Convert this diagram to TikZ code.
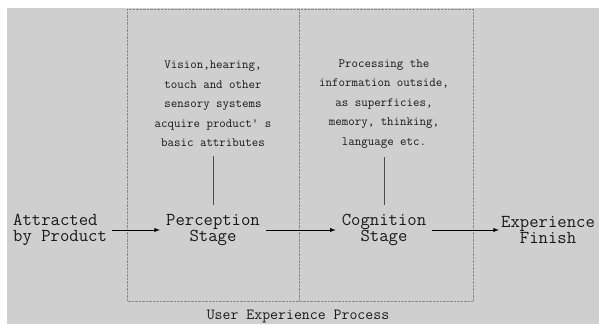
\documentclass[tikz,border=0pt]{standalone}
\usepackage{fontspec}
\usetikzlibrary{positioning}
\definecolor{bggray}{RGB}{207,207,207}
\definecolor{boxgray}{RGB}{135,135,135}
\tikzset{
	stage/.style={font=\ttfamily\fontsize{18.2}{16.5}\selectfont,align=center,inner xsep=6pt,inner ysep=9pt,text=black!90},
	note/.style={font=\ttfamily\fontsize{12.6}{19.5}\selectfont,align=center,inner sep=9pt,text=black!90},
}
\begin{document}
\begin{tikzpicture}[x=1pt,y=-1pt]
	\useasboundingbox (0,0) rectangle (599,324);
	\fill[bggray] (7,8) rectangle (599,324);
	\draw[boxgray,densely dotted] (127,9) rectangle (473,301);
	\draw[boxgray,densely dotted] (299,9) -- (299,301);
	\node[stage,align=left,anchor=west,inner xsep=5pt] (v1) at (8,230) {Attracted\\by Product};
	\node[stage] (v2) at (213,230) {Perception\\Stage};
	\node[stage] (v3) at (384,230) {Cognition\\Stage};
	\node[stage,inner xsep=2pt] (v4) at (548,230) {Experience\\Finish};
	\node[note] (t1) at (213,104) {Vision,hearing,\\touch and other\\sensory systems\\acquire product' s\\basic attributes};
	\node[note] (t2) at (384,104) {Processing the\\information outside,\\as superficies,\\memory, thinking,\\language etc.};
	\node[font=\ttfamily\fontsize{15.4}{16}\selectfont,text=black!90] (p) at (298,316) {User Experience Process};
	\draw[-latex,line width=0.9pt] (v1) -- (v2);
	\draw[-latex,line width=0.9pt] (v2) -- (v3);
	\draw[-latex,line width=0.9pt] (v3) -- (v4);
	\draw[black!70,line width=1pt] (t1) -- (v2);
	\draw[black!70,line width=1pt] (t2) -- (v3);
\end{tikzpicture}
\end{document}
